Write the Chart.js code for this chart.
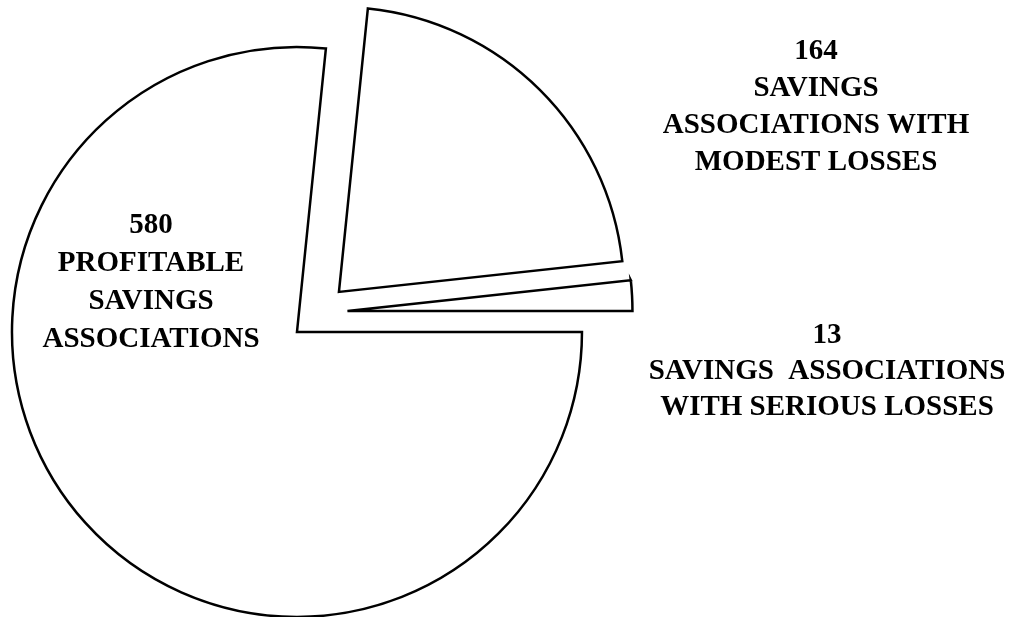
<!DOCTYPE html>
<html lang="en">
<head>
  <meta charset="UTF-8" />
  <title>Savings Associations</title>
  <script src="https://cdn.jsdelivr.net/npm/chart.js"></script>
  <style>
    body { margin: 0; background: #fff; }
    .wrap { position: relative; width: 1025px; height: 617px; }
  </style>
</head>
<body>
  <div class="wrap"><canvas id="pie"></canvas></div>

  <script>
    const categories = [
      ["PROFITABLE", "SAVINGS", "ASSOCIATIONS"],
      ["SAVINGS", "ASSOCIATIONS WITH", "MODEST LOSSES"],
      ["SAVINGS  ASSOCIATIONS", "WITH SERIOUS LOSSES"]
    ];
    const counts = [580, 164, 13];

    // text blocks: centre x, first baseline, line step
    const labelSpots = [
      { x: 151, y: 233, step: 38 },
      { x: 816, y: 59, step: 37 },
      { x: 827, y: 343, step: 36 }
    ];
    const EXPLODE = 29; // every slice pulled out along its middle

    const explode = {
      id: 'explode',
      beforeDatasetsDraw(chart) {
        const a = chart.chartArea;
        const cx = (a.left + a.right) / 2;
        const cy = (a.top + a.bottom) / 2;
        chart.getDatasetMeta(0).data.forEach(arc => {
          const mid = (arc.startAngle + arc.endAngle) / 2;
          arc.x = cx + Math.cos(mid) * EXPLODE;
          arc.y = cy + Math.sin(mid) * EXPLODE;
        });
      }
    };

    const blockText = {
      id: 'blockText',
      afterDraw(chart) {
        const ctx = chart.ctx;
        ctx.save();
        ctx.font = 'bold 29px "Liberation Serif", "Times New Roman", serif';
        ctx.fillStyle = '#000';
        ctx.textAlign = 'center';
        ctx.textBaseline = 'alphabetic';
        counts.forEach((n, i) => {
          const s = labelSpots[i];
          [String(n), ...categories[i]].forEach((line, k) => {
            ctx.fillText(line, s.x, s.y + k * s.step);
          });
        });
        ctx.restore();
      }
    };

    new Chart(document.getElementById('pie'), {
      type: 'pie',
      data: {
        labels: categories.map(c => c.join(' ')),
        datasets: [{
          data: counts,
          backgroundColor: '#fff',
          borderColor: '#000',
          borderWidth: 2.5,
          borderJoinStyle: 'miter',
          rotation: 90,
          radius: 285
        }]
      },
      options: {
        responsive: true,
        maintainAspectRatio: false,
        animation: false,
        events: [],
        rotation: 90,
        radius: 285,
        layout: { padding: { left: 0, right: 388, top: 8, bottom: 0 } },
        plugins: {
          legend: { display: false },
          tooltip: { enabled: false }
        }
      },
      plugins: [explode, blockText]
    });
  </script>
</body>
</html>
